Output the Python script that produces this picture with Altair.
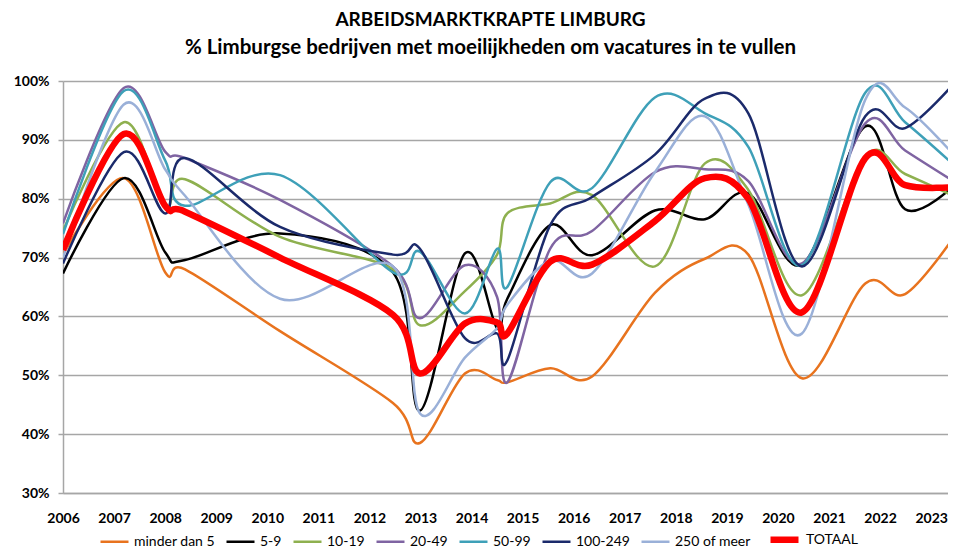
import altair as alt
import pandas as pd

# Survey moments (decimal years)
years = [2006.00, 2007.19, 2008.00, 2008.39, 2010.25, 2012.46, 2012.99, 2013.87,
         2014.50, 2014.70, 2015.54, 2016.36, 2017.59, 2018.57, 2019.42, 2020.47,
         2021.71, 2022.49, 2023.49]

series_names = ["minder dan 5", "5-9", "10-19", "20-49", "50-99", "100-249",
                "250 of meer", "TOTAAL"]

minder_dan_5 = [70.5, 83.5, 67.5, 68.0, 57.5, 45.3, 38.5, 50.3, 49.2, 48.8, 51.2, 49.8,
                64.0, 69.8, 70.5, 49.5, 65.6, 63.8, 74.0]
s5_9 = [67.3, 83.5, 70.9, 69.6, 74.1, 67.5, 44.0, 70.7, 58.0, 63.0, 75.5, 70.4,
        78.0, 76.5, 80.9, 68.8, 92.3, 78.2, 82.6]
s10_19 = [74.5, 93.0, 78.8, 83.3, 73.5, 68.0, 58.5, 64.3, 70.5, 77.5, 79.2, 80.6,
          68.5, 86.0, 81.5, 63.6, 87.2, 84.2, 80.3]
s20_49 = [75.8, 98.8, 88.0, 86.9, 79.8, 68.5, 59.7, 68.7, 63.3, 48.8, 71.5, 74.5,
          84.5, 85.0, 83.0, 69.0, 92.8, 88.2, 82.7]
s50_99 = [74.0, 98.3, 86.5, 78.8, 84.0, 67.5, 71.0, 60.5, 71.5, 65.0, 82.8, 81.8,
          97.2, 94.5, 88.8, 68.7, 98.0, 93.0, 85.4]
s100_249 = [69.0, 87.9, 77.5, 86.9, 75.2, 70.5, 71.5, 56.3, 57.1, 52.5, 75.5, 80.3,
            87.5, 97.0, 94.5, 68.5, 94.0, 92.0, 100.0]
s250_meer = [70.0, 96.0, 85.0, 80.5, 63.0, 68.5, 43.5, 53.0, 58.0, 62.0, 69.5, 67.3,
             84.5, 94.0, 79.0, 57.1, 96.8, 95.5, 87.0]
totaal = [71.3, 91.0, 78.8, 77.8, 70.0, 60.3, 50.3, 58.8, 59.0, 57.1, 69.3, 68.8,
          76.2, 83.5, 80.0, 60.7, 86.9, 82.3, 82.0]

all_series = [minder_dan_5, s5_9, s10_19, s20_49, s50_99, s100_249, s250_meer, totaal]

colors = ["#E8731E", "#000000", "#8EB04F", "#7F64A2", "#3EA0B8", "#1B2A6B",
          "#9AB0D8", "#FF0000"]
widths = [2.5, 2.5, 2.5, 2.5, 2.5, 2.5, 2.5, 6.5]

tick_years = list(range(2006, 2024))
y_ticks = [30, 40, 50, 60, 70, 80, 90, 100]

rows = []
for name, vals in zip(series_names, all_series):
    for i, (t, v) in enumerate(zip(years, vals)):
        rows.append({"jaar": t, "pct": v, "reeks": name, "volg": i})
df = pd.DataFrame(rows)

legend_common = dict(
    orient="none", legendX=36, legendY=441, direction="horizontal",
    title=None, symbolType="stroke", symbolSize=784, labelFont="Lato",
    labelFontSize=14, labelColor="#000000", columnPadding=6, labelOffset=4,
    padding=0,
)

chart = alt.Chart(df).mark_line(interpolate="cardinal", clip=True).encode(
    x=alt.X("jaar:Q",
            scale=alt.Scale(domain=[2006, 2023.33], nice=False, zero=False),
            axis=alt.Axis(values=tick_years, format="d", title=None, grid=False,
                          ticks=False, labelOffset=0, labelPadding=18,
                          labelFont="Lato", labelFontSize=14, labelFontWeight="bold",
                          labelColor="#000000", domainColor="#A6A6A6",
                          domainWidth=1.5, labelFlush=False)),
    y=alt.Y("pct:Q",
            scale=alt.Scale(domain=[30, 100], nice=False, zero=False),
            axis=alt.Axis(values=y_ticks, labelExpr="datum.value + '%'", title=None,
                          grid=True, gridColor="#A6A6A6", gridWidth=1.5,
                          ticks=True, tickSize=5, tickColor="#A6A6A6", tickWidth=1.5,
                          labelPadding=9, labelFont="Lato", labelFontSize=14,
                          labelFontWeight="bold", labelColor="#000000",
                          domainColor="#A6A6A6", domainWidth=1.5)),
    color=alt.Color("reeks:N", scale=alt.Scale(domain=series_names, range=colors),
                    legend=alt.Legend(**legend_common)),
    strokeWidth=alt.StrokeWidth("reeks:N",
                                scale=alt.Scale(type="ordinal", domain=series_names,
                                                range=widths),
                                legend=alt.Legend(**legend_common)),
    order=alt.Order("volg:Q"),
).properties(
    width=885,
    height=412,
    autosize=alt.AutoSizeParams(type="none"),
    padding={"left": 55, "top": 73, "right": 0, "bottom": 55},
    title=alt.TitleParams(
        text="ARBEIDSMARKTKRAPTE LIMBURG",
        subtitle="% Limburgse bedrijven met moeilijkheden om vacatures in te vullen",
        font="Lato", fontSize=19, fontWeight="bold", color="#000000",
        subtitleFont="Lato", subtitleFontSize=20.5, subtitleFontWeight="bold",
        subtitleColor="#000000", anchor="middle", offset=16, dx=-15,
        subtitlePadding=8,
    ),
).configure_view(strokeWidth=0)

chart.save("out.html", embed_options={"renderer": "svg", "actions": False})
